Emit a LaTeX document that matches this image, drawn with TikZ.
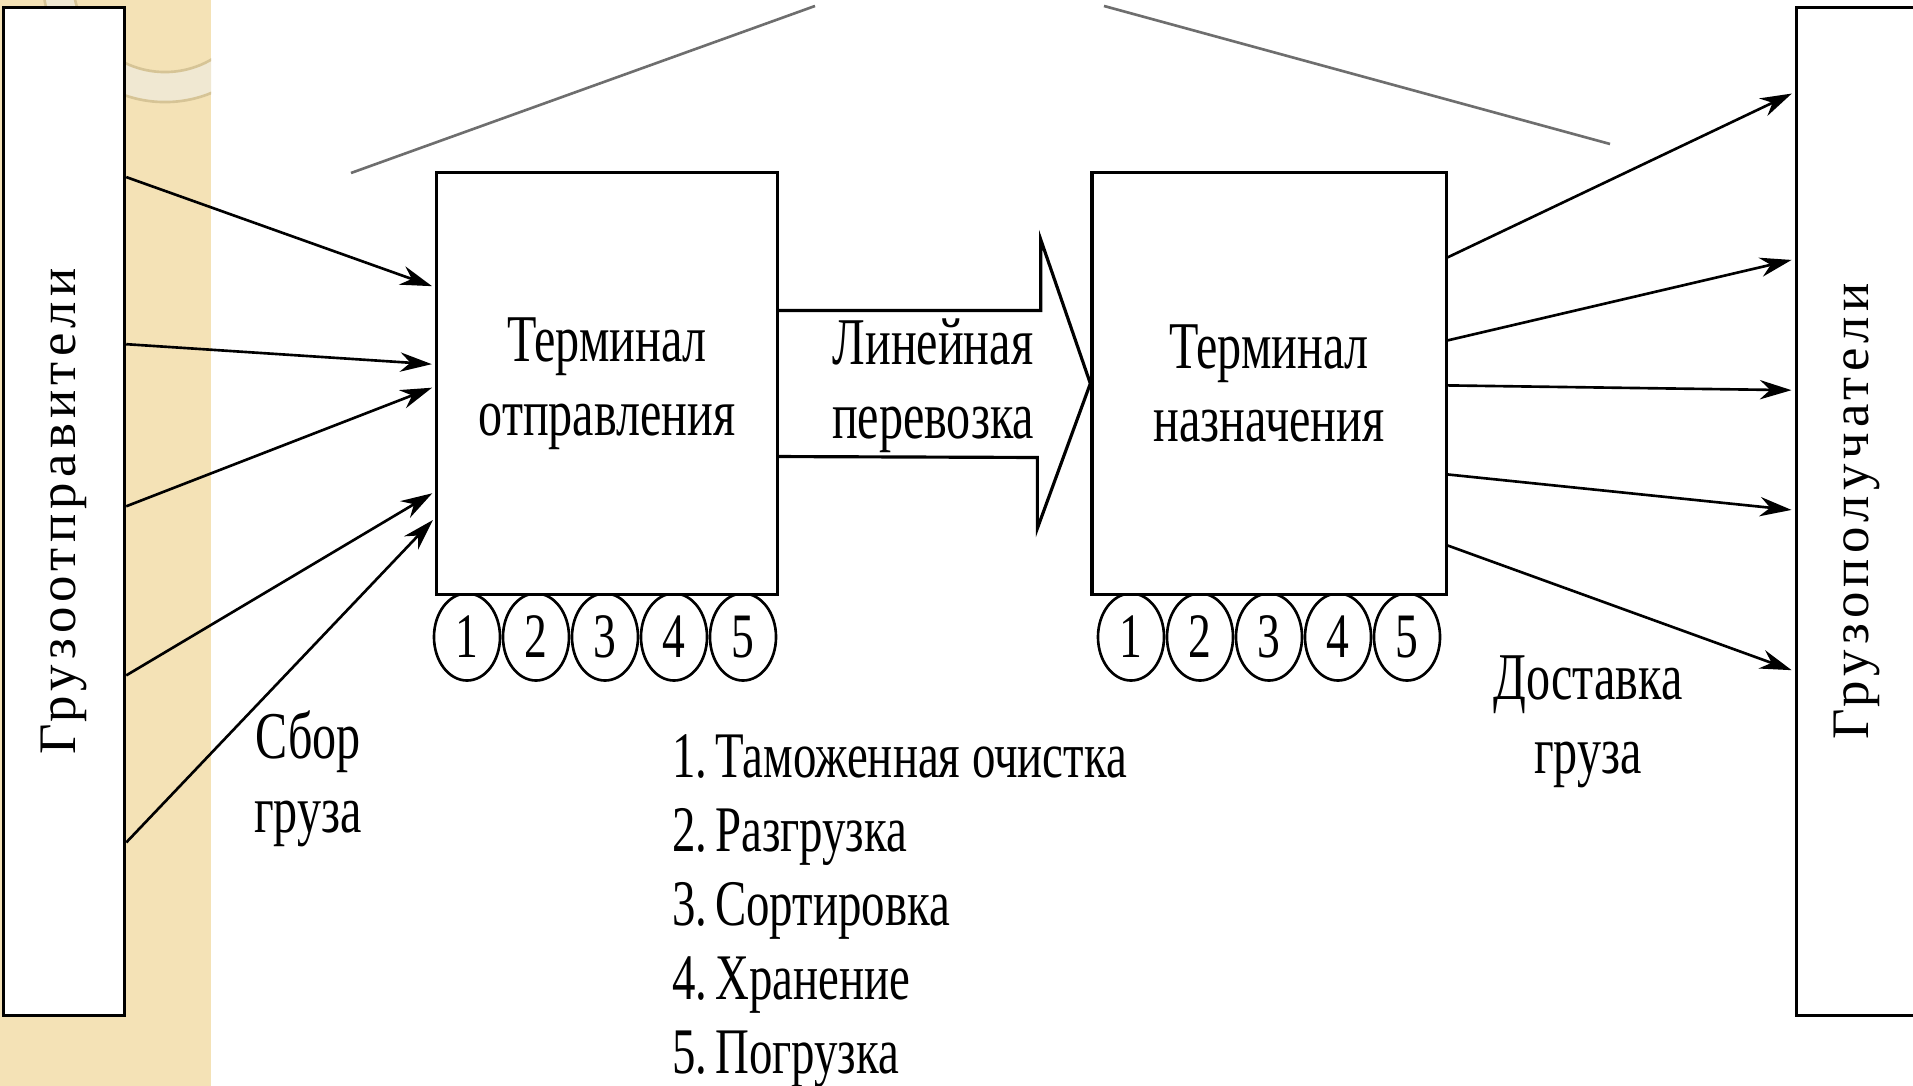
\documentclass[tikz,border=0pt]{standalone}
\usepackage{fontspec}
\setmainfont{Liberation Serif}[FakeStretch=0.72]
\newfontfamily\widefont{Liberation Serif}[LetterSpace=10]
\usepackage{graphicx}
\usetikzlibrary{arrows.meta,shapes.geometric}
\definecolor{strip}{RGB}{244,226,182}
\definecolor{ringfill}{RGB}{240,232,210}
\definecolor{ringedge}{RGB}{214,196,150}
\definecolor{lead}{RGB}{110,110,110}

\begin{document}
\begin{tikzpicture}[x=0.01cm,y=-0.01cm,line width=0.75pt,>={Stealth[length=9pt,width=5.5pt]},
                    flow/.style={->,shorten >=1pt},
                    term/.style={draw,line width=0.9pt,fill=white,align=center,minimum height=4.21cm,
                                 font=\fontsize{19}{21}\selectfont},
                    party/.style={draw,line width=0.9pt,fill=white,minimum width=1.21cm,minimum height=10.07cm,
                                  anchor=north west,font=\widefont\fontsize{15}{17}\selectfont},
                    stage/.style={draw,ellipse,fill=white,inner sep=0pt,minimum width=0.66cm,
                                  minimum height=0.87cm,font=\fontsize{18}{20}\selectfont},
                    txt/.style={align=center,font=\fontsize{19}{21}\selectfont}]

  \useasboundingbox (0,0) rectangle (1913,1086);

  % slide strip
  \fill[strip] (0,0) rectangle (211,1086);
  \begin{scope}
    \clip (0,0) rectangle (211,1086);
    \fill[ringfill,even odd rule] (165,-20) circle (1.22cm) (165,-20) circle (0.92cm);
    \draw[ringedge] (165,-20) circle (1.22cm) (165,-20) circle (0.92cm);
  \end{scope}

  \node[party] (snd) at (2,6)    {\rotatebox{90}{Грузоотправители}};
  \node[party] (rcv) at (1795,6) {\rotatebox{90}{Грузополучатели}};

  \foreach \i in {1,...,5} {
    \node[stage] (a\i) at ({398+69*\i},637)  {\i};
    \node[stage] (b\i) at ({1062+69*\i},637) {\i};
  }

  \node[term,minimum width=3.40cm] (dep)  at (607,383.5)  {Терминал\\отправления};
  \node[term,minimum width=3.54cm] (dest) at (1269,383.5) {Терминал\\назначения};

  % line haul
  \draw[line width=0.9pt] ([yshift=0.73cm]dep.east) -- ++(262,0) -- ++(0,-71) -- (dest.west)
               -- ++(-53,145) -- ++(0,-71) -- ([yshift=-0.73cm]dep.east);
  \node[txt] (haul) at (933,386)  {Линейная\\перевозка};
  \node[txt] (pick) at (308,779)  {Сбор\\груза};
  \node[txt] (drop) at (1588,722) {Доставка\\груза};

  \foreach \a/\b in {1.71/1.16,3.38/1.93,5.00/2.15,6.69/3.20,8.36/3.46}
    \draw[flow] ([yshift=-\a cm]snd.north east) -- ([yshift=-\b cm]dep.north west);
  \foreach \a/\b in {0.86/0.86,1.69/2.53,2.14/3.84,3.03/5.04,3.74/6.65}
    \draw[flow] ([yshift=-\a cm]dest.north east) -- ([yshift=-\b cm]rcv.north west);

  \foreach \what [count=\i] in {Таможенная очистка,Разгрузка,Сортировка,Хранение,Погрузка}
    \node[anchor=base west,inner sep=0pt,font=\fontsize{18.5}{21}\selectfont] (op\i)
      at (671,{703+74*\i}) {\i.\kern2.2pt\what};

  \draw[lead] (351,173) -- (815,6);
  \draw[lead] (1104,6) -- (1610,144);

\end{tikzpicture}
\end{document}
